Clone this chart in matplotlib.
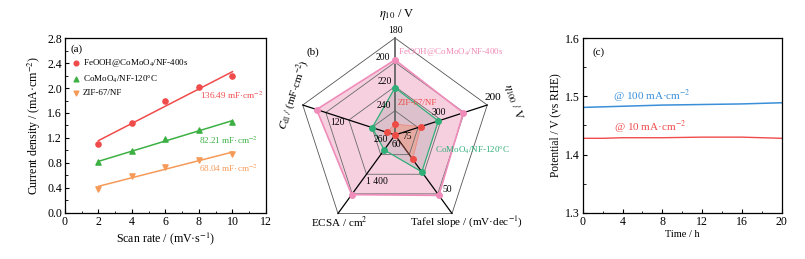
import numpy as np
import matplotlib
matplotlib.use("Agg")
import matplotlib.pyplot as plt
from matplotlib.ticker import MultipleLocator

plt.rcParams['font.family'] = ['Liberation Serif', 'DejaVu Serif']
plt.rcParams['mathtext.fontset'] = 'stix'
plt.rcParams['xtick.direction'] = 'in'
plt.rcParams['ytick.direction'] = 'in'

RED = '#f04b4b'
GREEN = '#3cb043'
ORANGE = '#f59a58'
PINK = '#f08cba'
RGREEN = '#2fae78'
BLUE = '#3a8fd8'

# ---- panel (a) data: Cdl fits
scan_rate = [2, 4, 6, 8, 10]
j_feooh = [1.10, 1.44, 1.80, 2.02, 2.19]
j_comoo4 = [0.81, 0.99, 1.18, 1.32, 1.46]
j_zif = [0.39, 0.59, 0.73, 0.84, 0.95]
cdl_labels = ['136.49', '82.21', '68.04']
names = ['FeOOH@CoMoO$_4$/NF-400s', 'CoMoO$_4$/NF-120\u00b0C', 'ZIF-67/NF']

# ---- panel (b) data: radar
radar_axes = ['eta10', 'eta100', 'tafel', 'ecsa', 'cdl']
radar_range = {'eta10': (260, 180), 'eta100': (400, 200), 'tafel': (75, 42),
               'ecsa': (1000, 1800), 'cdl': (60, 150)}
radar_feooh = [198, 252, 49.6, 1608, 136.49]
radar_comoo4 = [221, 306, 59.5, 1152, 82.21]
radar_zif = [251, 344, 64.8, 1005, 68.04]

# ---- panel (c) data: stability
time_h = [0, 2, 4, 6, 8, 10, 12, 14, 16, 18, 20]
pot_100 = [1.481, 1.482, 1.483, 1.484, 1.485, 1.4855, 1.486, 1.4865, 1.487, 1.488, 1.489]
pot_10 = [1.428, 1.428, 1.429, 1.429, 1.429, 1.4295, 1.430, 1.430, 1.430, 1.429, 1.428]

fig = plt.figure(figsize=(8.05, 2.59), dpi=100)

# ================= (a)
ax = fig.add_axes([0.0807, 0.178, 0.2497, 0.675])
sets = [(j_feooh, RED, 'o'), (j_comoo4, GREEN, '^'), (j_zif, ORANGE, 'v')]
xs = np.array(scan_rate)
for (ys, c, m), nm in zip(sets, names):
    ax.scatter(xs, ys, color=c, marker=m, s=14, zorder=3, label=nm)
    k, b = np.polyfit(xs, ys, 1)
    ax.plot([2, 10], [k * 2 + b, k * 10 + b], color=c, lw=1.1, zorder=2)
ax.text(8.05, 1.89, cdl_labels[0] + ' mF\u00b7cm$^{-2}$', color=RED, fontsize=6.6, va='center')
ax.text(8.0, 1.17, cdl_labels[1] + ' mF\u00b7cm$^{-2}$', color=GREEN, fontsize=6.6, va='center')
ax.text(8.0, 0.72, cdl_labels[2] + ' mF\u00b7cm$^{-2}$', color=ORANGE, fontsize=6.6, va='center')
ax.text(0.35, 2.58, '(a)', fontsize=8)
ax.legend(loc='upper left', bbox_to_anchor=(0.0, 0.92), frameon=False, fontsize=6.5,
          handletextpad=0.2, borderaxespad=0.2, labelspacing=0.45, handlelength=1.2,
          markerscale=0.9)
ax.set_xlim(0, 12)
ax.set_ylim(0, 2.8)
ax.xaxis.set_major_locator(MultipleLocator(2))
ax.xaxis.set_minor_locator(MultipleLocator(1))
ax.yaxis.set_major_locator(MultipleLocator(0.4))
ax.yaxis.set_minor_locator(MultipleLocator(0.2))
ax.set_yticklabels(['%.1f' % v for v in ax.get_yticks()])
ax.tick_params(labelsize=8.6, length=3, width=0.8, pad=2)
ax.tick_params(which='minor', length=1.8, width=0.6)
ax.set_xlabel('Scan rate / (mV\u00b7s$^{-1}$)', fontsize=8.6, labelpad=2)
ax.set_ylabel('Current density / (mA\u00b7cm$^{-2}$)', fontsize=8.6, labelpad=3)
for s in ax.spines.values():
    s.set_linewidth(0.9)

# ================= (b) radar
R = 97.0
rax = fig.add_axes([(395 - 1.3 * R) / 805, (259 - 135 - 1.3 * R) / 259,
                    2.6 * R / 805, 2.6 * R / 259])
rax.set_xlim(-1.3, 1.3)
rax.set_ylim(-1.3, 1.3)
rax.axis('off')
ang = np.deg2rad([90, 18, -54, -126, 162])


def to_r(vals):
    out = []
    for a, v in zip(radar_axes, vals):
        c, o = radar_range[a]
        out.append((v - c) / (o - c))
    return np.array(out)


def xy(r):
    x = np.append(r * np.cos(ang), r[0] * np.cos(ang[0]))
    y = np.append(r * np.sin(ang), r[0] * np.sin(ang[0]))
    return x, y


# fills
fx, fy = xy(to_r(radar_feooh))
rax.fill(fx, fy, color='#f4bcd3', alpha=0.7, lw=0, zorder=1)
gx, gy = xy(to_r(radar_comoo4))
rax.fill(gx, gy, color='#a0a0a0', alpha=0.3, lw=0, zorder=1.1)
zx, zy = xy(to_r(radar_zif))
rax.fill(zx, zy, color='#f09070', alpha=0.45, lw=0, zorder=1.2)

# grid
for lvl in [0.25, 0.5, 0.75, 1.0]:
    px, py = xy(np.full(5, lvl))
    rax.plot(px, py, color='#555555' if lvl == 1.0 else '#6a6a6a', lw=0.6, zorder=2)
for i, a in enumerate(ang):
    rax.plot([0, np.cos(a)], [0, np.sin(a)], color='#666666' if i == 0 else 'black',
             lw=1.3 if i == 0 else 0.9, zorder=2.2)

rax.plot(fx, fy, color=PINK, lw=1.2, zorder=3)
rax.scatter(fx[:-1], fy[:-1], color=PINK, s=16, zorder=4)
rax.plot(gx, gy, color=RGREEN, lw=0.9, zorder=3)
rax.scatter(gx[:-1], gy[:-1], color=RGREEN, s=16, zorder=4)
rax.plot(zx, zy, color='#f07060', lw=0.6, alpha=0.6, zorder=3)
rax.scatter(zx[:-1], zy[:-1], color='#ee4b45', s=16, zorder=4)


def tick_lab(axis_i, val, dx, dy, txt, fs=6.9):
    c, o = radar_range[radar_axes[axis_i]]
    r = (val - c) / (o - c)
    rax.text(r * np.cos(ang[axis_i]) + dx, r * np.sin(ang[axis_i]) + dy, txt,
             fontsize=fs, ha='center', va='center', zorder=5)


tick_lab(0, 180, 0, 0.08, '180')
tick_lab(0, 200, -0.12, 0.05, '200')
tick_lab(0, 220, -0.11, 0.05, '220')
tick_lab(0, 240, -0.11, 0.05, '240')
tick_lab(0, 260, -0.15, -0.05, '260')
tick_lab(1, 300, -0.02, 0.08, '300')
tick_lab(1, 200, 0.06, 0.08, '200', fs=8.2)
tick_lab(2, 50, 0.09, 0.05, '50')
tick_lab(2, 75, 0.12, -0.02, '75')
tick_lab(3, 1400, 0.11, -0.07, '1 400')
tick_lab(4, 120, 0.04, -0.08, '120')
tick_lab(4, 60, 0.01, -0.10, '60')

rax.text(0.02, 1.24, r'$\eta_{10}$ / V', fontsize=9, ha='center', va='center')
rax.text(1.22, 0.34, r'$\eta_{100}$ / V', fontsize=8.5, ha='center', va='center', rotation=-72)
rax.text(-1.05, 0.42, r'$C_{\rm dl}$ / (mF$\cdot$cm$^{-2}$)', fontsize=8, ha='center',
         va='center', rotation=72)
rax.text(-0.57, -0.9, 'ECSA / cm$^2$', fontsize=8, ha='center', va='center')
rax.text(0.74, -0.9, 'Tafel slope / (mV\u00b7dec$^{-1}$)', fontsize=8, ha='center', va='center')
rax.text(-0.845, 0.856, '(b)', fontsize=8, ha='center', va='center')
rax.text(0.03, 0.856, names[0], fontsize=6.5, color='#ee88b4', ha='left', va='center', zorder=5)
rax.text(0.03, 0.33, names[2], fontsize=6.5, color='#ee4b45', ha='left', va='center', zorder=5)
rax.text(0.41, -0.155, names[1], fontsize=6.5, color=RGREEN, ha='left', va='center', zorder=5)

# ================= (c)
cx = fig.add_axes([0.724, 0.178, 0.247, 0.675])
cx.plot(time_h, pot_100, color=BLUE, lw=1.1)
cx.plot(time_h, pot_10, color=RED, lw=1.0)
cx.text(3.0, 1.499, '@ 100 mA\u00b7cm$^{-2}$', color=BLUE, fontsize=8, va='center')
cx.text(3.1, 1.446, '@ 10 mA\u00b7cm$^{-2}$', color=RED, fontsize=8, va='center')
cx.text(1.0, 1.575, '(c)', fontsize=8, va='center')
cx.set_xlim(0, 20)
cx.set_ylim(1.3, 1.6)
cx.xaxis.set_major_locator(MultipleLocator(4))
cx.xaxis.set_minor_locator(MultipleLocator(2))
cx.yaxis.set_major_locator(MultipleLocator(0.1))
cx.yaxis.set_minor_locator(MultipleLocator(0.05))
cx.tick_params(labelsize=8.6, length=3, width=0.8, pad=2)
cx.tick_params(which='minor', length=1.8, width=0.6)
cx.set_xlabel('Time / h', fontsize=7.5, labelpad=2)
cx.set_ylabel('Potential / V (vs RHE)', fontsize=8.3, labelpad=3)
for s in cx.spines.values():
    s.set_linewidth(0.9)

fig.savefig('out.png', dpi=100)
